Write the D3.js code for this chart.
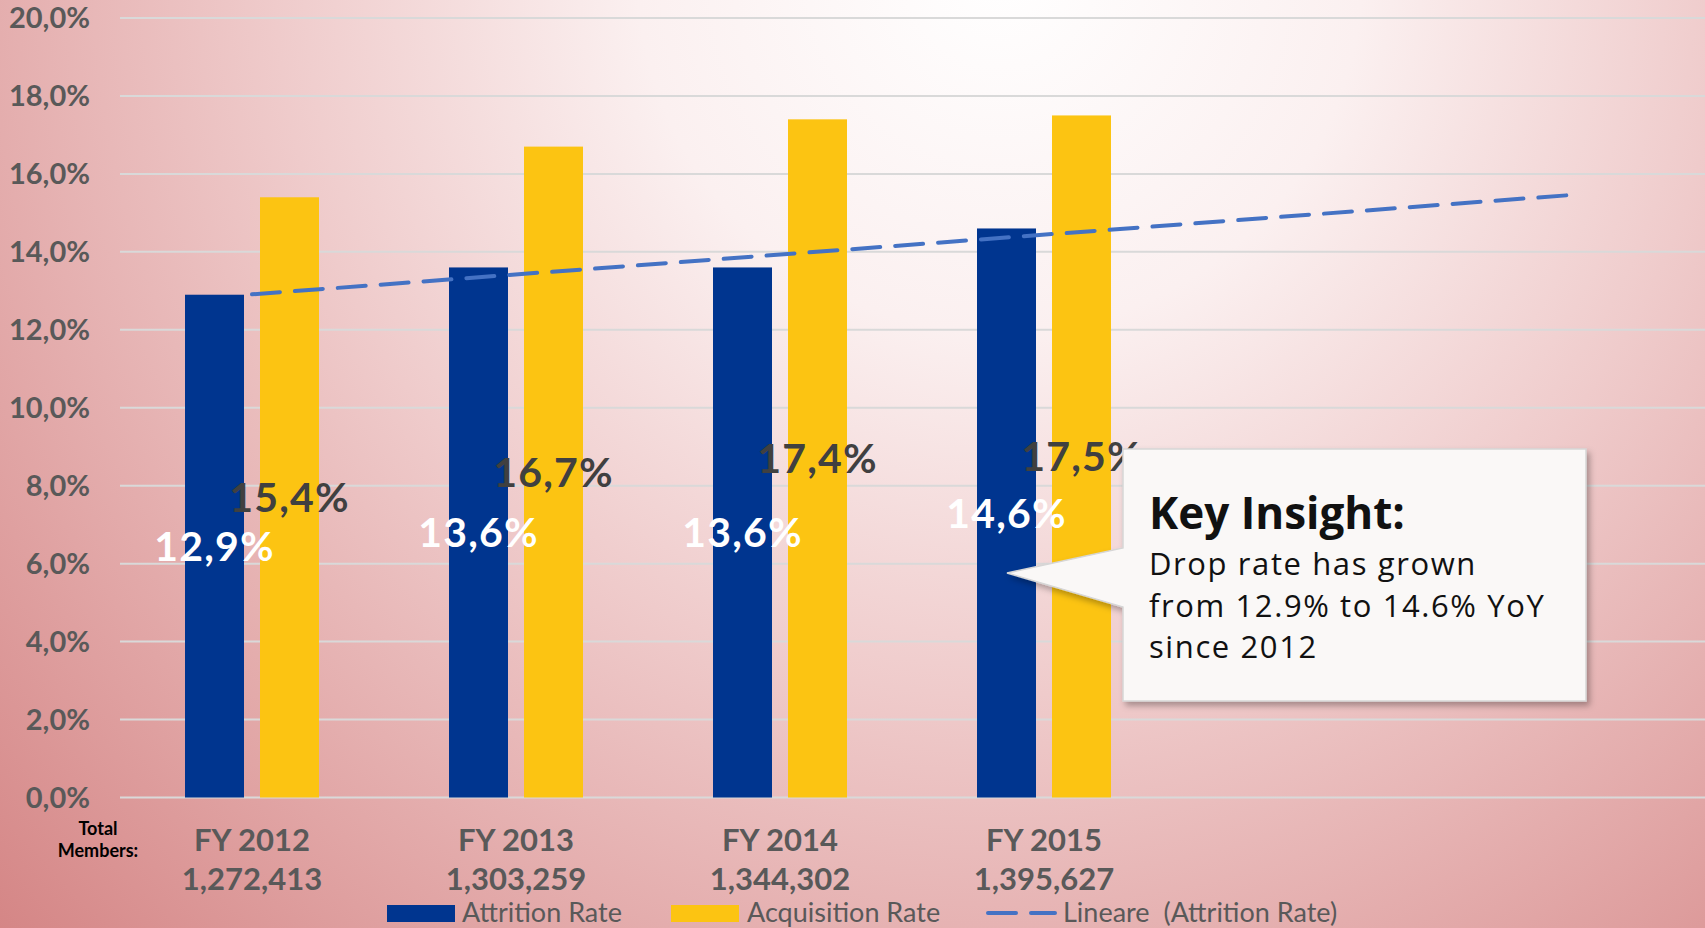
<!DOCTYPE html>
<html>
<head>
<meta charset="utf-8">
<script src="https://cdn.jsdelivr.net/npm/d3@7/dist/d3.min.js"></script>
<style>
  html, body { margin: 0; padding: 0; overflow: hidden; background: #fff; }
  svg { display: block; }
  text { white-space: pre; }
</style>
</head>
<body>
<svg id="chart" width="1705" height="928"></svg>
<script>
// ---------- data ----------
const categories = ["FY 2012", "FY 2013", "FY 2014", "FY 2015"];
const totalMembers = ["1,272,413", "1,303,259", "1,344,302", "1,395,627"];
const attritionRate = [12.9, 13.6, 13.6, 14.6];
const acquisitionRate = [15.4, 16.7, 17.4, 17.5];
const attritionLabels = ["12,9%", "13,6%", "13,6%", "14,6%"];
const acquisitionLabels = ["15,4%", "16,7%", "17,4%", "17,5%"];
const yTicks = [0, 2, 4, 6, 8, 10, 12, 14, 16, 18, 20];
const yTickLabels = ["0,0%", "2,0%", "4,0%", "6,0%", "8,0%", "10,0%", "12,0%", "14,0%", "16,0%", "18,0%", "20,0%"];
const forecastPeriods = 2;
const seriesNames = ["Attrition Rate", "Acquisition Rate", "Lineare  (Attrition Rate)"];
const insightTitle = "Key Insight:";
const insightLines = ["Drop rate has grown", "from 12.9% to 14.6% YoY", "since 2012"];
const axisCaption = ["Total", "Members:"];

// ---------- setup ----------
const W = 1705, H = 928;
const svg = d3.select("#chart");
const defs = svg.append("defs");

const bg = defs.append("radialGradient").attr("id", "bg")
  .attr("gradientUnits", "userSpaceOnUse")
  .attr("cx", 1000).attr("cy", -30).attr("r", 1450);
[[0, "#ffffff"], [0.25, "#fbf0f0"], [0.5, "#efcbcb"], [0.75, "#e1a5a5"], [1, "#d27f7f"]]
  .forEach(([o, c]) => bg.append("stop").attr("offset", o).attr("stop-color", c));
svg.append("rect").attr("width", W).attr("height", H).attr("fill", "url(#bg)");

const shadow = defs.append("filter").attr("id", "shadow")
  .attr("x", "-10%").attr("y", "-10%").attr("width", "130%").attr("height", "130%");
shadow.append("feDropShadow").attr("dx", 3).attr("dy", 4).attr("stdDeviation", 3)
  .attr("flood-color", "#000").attr("flood-opacity", 0.3);

const nSlots = categories.length + forecastPeriods;
const x = d3.scaleBand().domain(d3.range(nSlots)).range([120, 1704]);
const inner = d3.scaleBand().domain([0, 1]).range([0, x.bandwidth()])
  .paddingInner(16 / 75).paddingOuter(65 / 75);
const y = d3.scaleLinear().domain([0, 20]).range([797.5, 18]);

// gridlines
svg.append("g").selectAll("line").data(yTicks).join("line")
  .attr("x1", x.range()[0]).attr("x2", W)
  .attr("y1", d => y(d)).attr("y2", d => y(d))
  .attr("stroke", "#d9d9d9").attr("stroke-width", 2);

// y tick labels
svg.append("g").selectAll("text").data(yTicks).join("text")
  .attr("x", 90).attr("y", d => y(d)).attr("dy", "0.36em")
  .attr("text-anchor", "end")
  .attr("font-family", "Lato, sans-serif").attr("font-weight", 700)
  .attr("font-size", 29).attr("fill", "#595959")
  .text((d, i) => yTickLabels[i]);

// bars
const colors = ["#00358f", "#fcc412"];
const series = [attritionRate, acquisitionRate];
series.forEach((vals, s) => {
  svg.append("g").selectAll("rect").data(vals).join("rect")
    .attr("x", (d, i) => x(i) + inner(s))
    .attr("width", inner.bandwidth())
    .attr("y", d => y(d))
    .attr("height", d => y(0) - y(d))
    .attr("fill", colors[s]);
});

// trendline (linear least squares on attrition, extended by forecast periods)
const xs = attritionRate.map((d, i) => i + 1);
const mx = d3.mean(xs), my = d3.mean(attritionRate);
const slope = d3.sum(xs, (xi, i) => (xi - mx) * (attritionRate[i] - my)) / d3.sum(xs, xi => (xi - mx) ** 2);
const intercept = my - slope * mx;
const trendPts = [1, nSlots].map(t => [x(t - 1) + x.bandwidth() / 2, y(intercept + slope * t)]);
svg.append("path").attr("d", d3.line()(trendPts))
  .attr("fill", "none").attr("stroke", "#4472c4").attr("stroke-width", 4)
  .attr("stroke-dasharray", "28,15").attr("stroke-linecap", "round");

// data labels
const labelColors = ["#ffffff", "#404040"];
const labelTexts = [attritionLabels, acquisitionLabels];
series.forEach((vals, s) => {
  svg.append("g").selectAll("text").data(vals).join("text")
    .attr("x", (d, i) => x(i) + inner(s) + inner.bandwidth() / 2)
    .attr("y", d => y(d / 2)).attr("dy", "0.36em")
    .attr("text-anchor", "middle")
    .attr("font-family", "Lato, sans-serif").attr("font-weight", 700)
    .attr("font-size", 41).attr("letter-spacing", 1.2).attr("fill", labelColors[s])
    .text((d, i) => labelTexts[s][i]);
});

// x category labels
const xl = svg.append("g");
xl.selectAll("text.cat").data(categories).join("text").attr("class", "cat")
  .attr("x", (d, i) => x(i) + x.bandwidth() / 2).attr("y", 851)
  .attr("text-anchor", "middle")
  .attr("font-family", "Lato, sans-serif").attr("font-weight", 700)
  .attr("font-size", 31).attr("fill", "#595959").text(d => d);
xl.selectAll("text.mem").data(totalMembers).join("text").attr("class", "mem")
  .attr("x", (d, i) => x(i) + x.bandwidth() / 2).attr("y", 890)
  .attr("text-anchor", "middle")
  .attr("font-family", "Lato, sans-serif").attr("font-weight", 700)
  .attr("font-size", 31).attr("fill", "#595959").text(d => d);
xl.selectAll("text.cap").data(axisCaption).join("text").attr("class", "cap")
  .attr("x", 98).attr("y", (d, i) => 835 + i * 22)
  .attr("text-anchor", "middle")
  .attr("font-family", "Lato, sans-serif").attr("font-weight", 700)
  .attr("font-size", 18).attr("fill", "#000").text(d => d);

// legend
const lg = svg.append("g").attr("font-family", "Lato, sans-serif").attr("font-size", 27).attr("fill", "#595959");
lg.append("rect").attr("x", 387).attr("y", 905).attr("width", 68).attr("height", 17).attr("fill", colors[0]);
lg.append("text").attr("x", 462).attr("y", 922).text(seriesNames[0]);
lg.append("rect").attr("x", 671).attr("y", 905).attr("width", 68).attr("height", 17).attr("fill", colors[1]);
lg.append("text").attr("x", 747).attr("y", 922).text(seriesNames[1]);
lg.append("line").attr("x1", 988).attr("x2", 1055).attr("y1", 913).attr("y2", 913)
  .attr("stroke", "#4472c4").attr("stroke-width", 4).attr("stroke-linecap", "round")
  .attr("stroke-dasharray", "28,15");
lg.append("text").attr("x", 1063).attr("y", 922).text(seriesNames[2]);

// callout
const co = svg.append("g");
co.append("path")
  .attr("d", "M1123,449 H1586 V701 H1123 V607 L1007,573 L1123,548 Z")
  .attr("fill", "#faf8f7").attr("stroke", "#d6d6d6").attr("stroke-width", 1.5)
  .attr("filter", "url(#shadow)");
co.append("text").attr("x", 1149).attr("y", 529)
  .attr("font-family", "'Open Sans', sans-serif").attr("font-weight", 700)
  .attr("font-size", 44).attr("fill", "#111").text(insightTitle);
co.selectAll("text.body").data(insightLines).join("text").attr("class", "body")
  .attr("x", 1149).attr("y", (d, i) => 575 + i * 41.5)
  .attr("font-family", "'Open Sans', sans-serif").attr("font-weight", 400)
  .attr("font-size", 31).attr("letter-spacing", 1.6).attr("fill", "#111").text(d => d);
</script>
</body>
</html>
